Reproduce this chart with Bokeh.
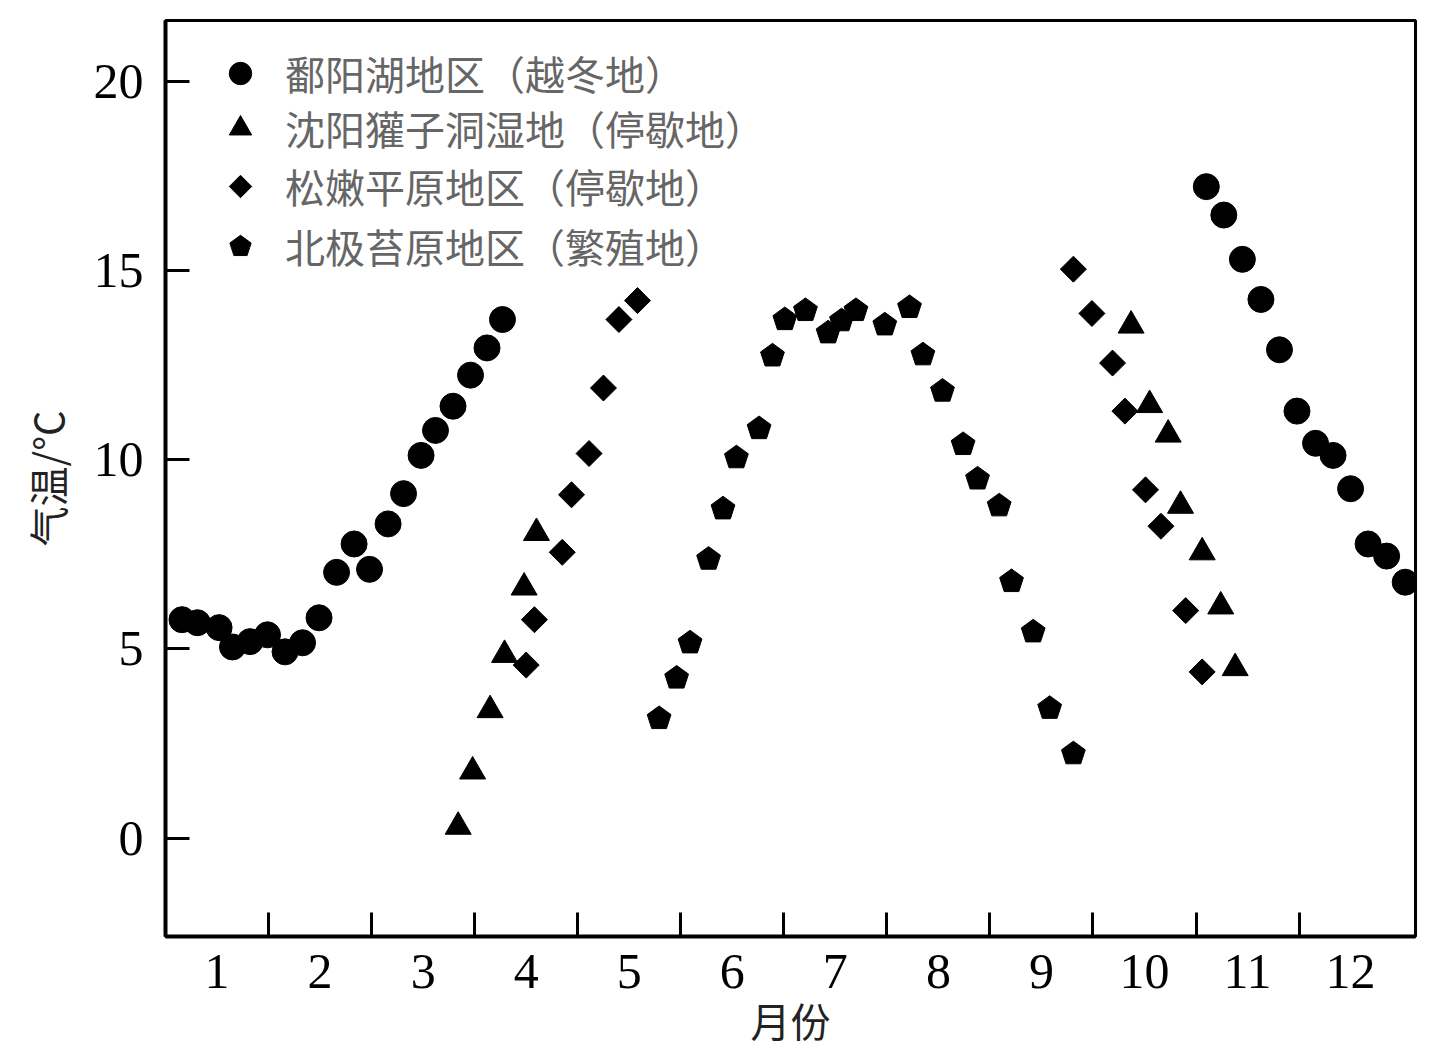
import numpy as np
from bokeh.plotting import figure
from bokeh.models import Range1d, FixedTicker, Legend, LegendItem, CustomJSTickFormatter
from bokeh.embed import file_html
from bokeh.resources import INLINE

# ---------------- data ----------------
month_labels = [str(i) for i in range(1, 13)]
month_centers = [i - 0.5 for i in range(1, 13)]
month_bounds = list(range(1, 12))
y_ticks = [0, 5, 10, 15, 20]

series_names = [
    "鄱阳湖地区（越冬地）",
    "沈阳獾子洞湿地（停歇地）",
    "松嫩平原地区（停歇地）",
    "北极苔原地区（繁殖地）",
]

# 鄱阳湖地区（越冬地） - circles
poyang_x = [0.16, 0.31, 0.52, 0.65, 0.82, 0.99, 1.16, 1.33, 1.49, 1.66, 1.83, 1.98,
            2.16, 2.31, 2.48, 2.62, 2.79, 2.96, 3.12, 3.27,
            10.10, 10.27, 10.45, 10.63, 10.81, 10.98, 11.16, 11.33, 11.50, 11.67, 11.85, 12.03]
poyang_y = [5.77, 5.69, 5.56, 5.05, 5.19, 5.37, 4.92, 5.16, 5.82, 7.02, 7.77, 7.10,
            8.30, 9.10, 10.11, 10.77, 11.41, 12.23, 12.95, 13.70,
            17.21, 16.46, 15.29, 14.23, 12.90, 11.28, 10.43, 10.11, 9.23, 7.77, 7.45, 6.76]

# 沈阳獾子洞湿地（停歇地） - triangles
shenyang_x = [2.84, 2.98, 3.15, 3.29, 3.48, 3.60,
              9.37, 9.55, 9.73, 9.85, 10.06, 10.24, 10.38]
shenyang_y = [0.30, 1.76, 3.38, 4.84, 6.62, 8.06,
              13.54, 11.44, 10.66, 8.78, 7.55, 6.12, 4.49]

# 松嫩平原地区（停歇地） - diamonds
songnen_x = [3.50, 3.58, 3.85, 3.94, 4.11, 4.25, 4.40, 4.58,
             8.81, 8.99, 9.19, 9.31, 9.51, 9.66, 9.90, 10.06]
songnen_y = [4.57, 5.77, 7.55, 9.07, 10.16, 11.89, 13.70, 14.20,
             15.03, 13.86, 12.55, 11.28, 9.20, 8.24, 6.01, 4.39]

# 北极苔原地区（繁殖地） - pentagons
arctic_x = [4.79, 4.96, 5.09, 5.27, 5.41, 5.54, 5.76, 5.89, 6.01, 6.21, 6.43, 6.56,
            6.70, 6.98, 7.22, 7.35, 7.54, 7.74, 7.88, 8.09, 8.21, 8.42, 8.58, 8.81]
arctic_y = [3.16, 4.23, 5.16, 7.37, 8.70, 10.05, 10.82, 12.74, 13.70, 13.94, 13.35, 13.67,
            13.94, 13.56, 14.02, 12.77, 11.81, 10.40, 9.49, 8.78, 6.78, 5.45, 3.43, 2.23]

# ---------------- figure ----------------
p = figure(width=1424, height=1051,
           x_range=Range1d(0, 12.13), y_range=Range1d(-2.6, 21.6),
           output_backend="svg", toolbar_location=None,
           min_border_left=165, min_border_right=9, min_border_top=20, min_border_bottom=110)
p.xgrid.visible = False
p.ygrid.visible = False
p.outline_line_color = "black"
p.outline_line_width = 3
p.outline_line_alpha = 1.0
p.background_fill_color = "white"
p.border_fill_color = "white"

serif = "Liberation Serif"
cjk = "Noto Sans CJK SC"

xa = p.xaxis[0]
xa.ticker = FixedTicker(ticks=month_centers, minor_ticks=month_bounds)
xa.formatter = CustomJSTickFormatter(args=dict(labels=month_labels),
                                     code="return labels[Math.round(tick - 0.5)];")
xa.major_tick_line_color = None
xa.minor_tick_in = 24
xa.minor_tick_out = 0
xa.minor_tick_line_width = 3
xa.minor_tick_line_color = "black"
xa.axis_line_width = 4
xa.axis_line_color = "black"
xa.major_label_text_font = serif
xa.major_label_text_font_size = "50px"
xa.major_label_text_color = "black"
xa.major_label_standoff = 12
xa.axis_label = "月份"
xa.axis_label_text_font = cjk
xa.axis_label_text_font_size = "40px"
xa.axis_label_text_font_style = "normal"
xa.axis_label_text_color = "#222222"
xa.axis_label_standoff = 0

ya = p.yaxis[0]
ya.ticker = FixedTicker(ticks=y_ticks, minor_ticks=[])
ya.major_tick_in = 24
ya.major_tick_out = 0
ya.major_tick_line_width = 3
ya.minor_tick_line_color = None
ya.axis_line_width = 4
ya.axis_line_color = "black"
ya.major_label_text_font = serif
ya.major_label_text_font_size = "50px"
ya.major_label_text_color = "black"
ya.major_label_standoff = 22
ya.axis_label = "气温/°C"
ya.axis_label_text_font = cjk
ya.axis_label_text_font_size = "40px"
ya.axis_label_text_font_style = "normal"
ya.axis_label_text_color = "#222222"
ya.axis_label_standoff = 15

r1 = p.scatter(poyang_x, poyang_y, marker="circle", size=26,
               fill_color="black", line_color="black")
r2 = p.scatter(shenyang_x, shenyang_y, marker="triangle", size=26,
               fill_color="black", line_color="black")
r3 = p.ngon(songnen_x, songnen_y, radius=13, radius_units="screen", n=4,
            fill_color="black", line_color="black")
r4 = p.ngon(arctic_x, arctic_y, radius=12.5, radius_units="screen", n=5,
            fill_color="black", line_color="black")

# one single-item legend per row, so the row pitch can be set exactly
legend_rows_y = [834, 779, 721, 661]
for name, rend, ly in zip(series_names, [r1, r2, r3, r4], legend_rows_y):
    lg = Legend(items=[LegendItem(label=name, renderers=[rend])], location=(42, ly))
    lg.label_text_font = cjk
    lg.label_text_font_size = "40px"
    lg.label_text_color = "#666666"
    lg.glyph_width = 66
    lg.glyph_height = 56
    lg.label_height = 56
    lg.spacing = 0
    lg.padding = 0
    lg.margin = 0
    lg.label_standoff = 12
    lg.background_fill_alpha = 0
    lg.border_line_alpha = 0
    p.add_layout(lg)

open("out.html", "w").write(file_html(p, INLINE))
